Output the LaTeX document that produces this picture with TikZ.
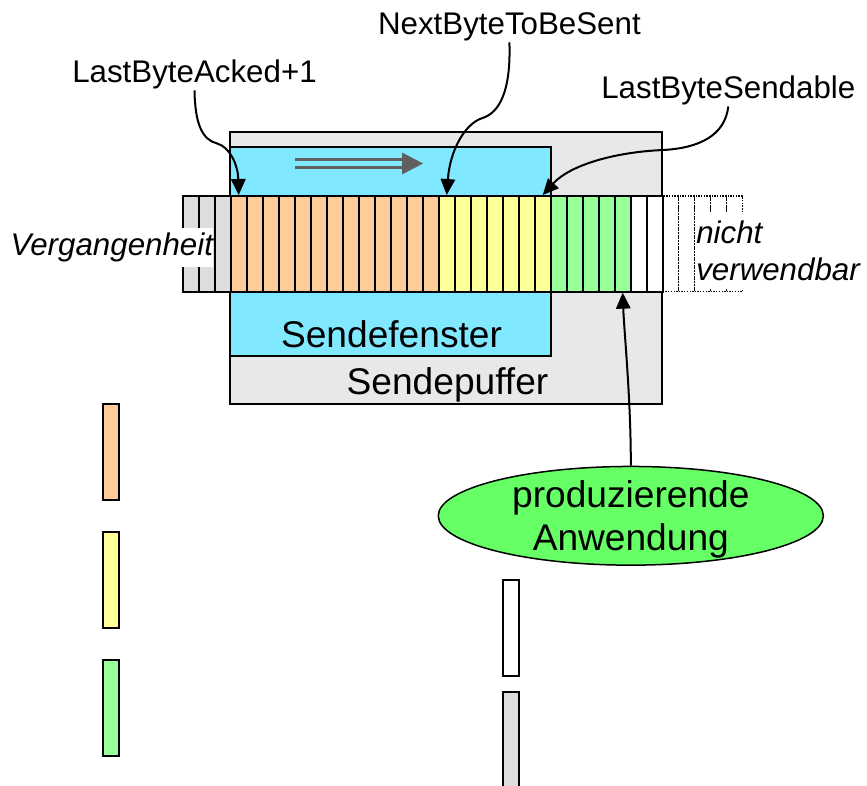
\documentclass[tikz,border=0pt]{standalone}
\usepackage{fontspec}
\setmainfont{Liberation Sans}
\usetikzlibrary{arrows.meta,shapes.geometric}

\definecolor{puffergray}{HTML}{E8E8E8}
\definecolor{fenstercyan}{RGB}{128,232,255}
\definecolor{pastgray}{HTML}{DDDDDD}
\definecolor{sentorange}{HTML}{FFCC99}
\definecolor{readyellow}{HTML}{FFFF99}
\definecolor{writtengreen}{HTML}{99FF99}
\definecolor{appgreen}{HTML}{66FF66}
\definecolor{flowgray}{HTML}{606060}

\newcommand{\labelfont}{\fontsize{22.25pt}{26pt}\selectfont}
\newcommand{\bigfont}{\fontsize{26.4pt}{30.5pt}\selectfont}

\begin{document}
\begin{tikzpicture}[
        x=0.025cm, y=-0.025cm,
        font=\labelfont,
        cell/.style = {rectangle, draw, line width=0.05cm, minimum width=0.4cm, minimum height=2.39cm, inner sep=0pt},
        freecell/.style = {rectangle, draw, densely dotted, line width=0.033cm, minimum width=0.4cm, minimum height=2.39cm, inner sep=0pt},
        box/.style = {rectangle, draw, line width=0.05cm, inner sep=0pt},
        tag/.style = {inner sep=1pt, anchor=base},
        flowline/.style = {draw=flowgray, line width=0.0675cm},
        line/.style = {draw, line width=0.05cm, -{Triangle[length=0.4cm, width=0.36cm]}}
    ]

    \useasboundingbox (0,0) rectangle (867,786);

    % Puffer und Fenster
    \node [box, fill=puffergray, minimum width=10.8075cm, minimum height=6.8075cm] (puffer) at (446.15,267.85) {};
    \node [box, fill=fenstercyan, minimum width=8.0175cm, minimum height=5.2175cm] (fenster) at (390.35,251.65) {};
    \node [tag, font=\bigfont] (fenstertext) at (391.5,348) {Sendefenster};
    \node [tag, font=\bigfont] (puffertext) at (447.5,395) {Sendepuffer};

    \draw [flowline] (295,159.3) -- (404,159.3);
    \draw [flowline] (295,167.7) -- (404,167.7);
    \fill [flowgray] (402,152.5) -- (423,163.5) -- (402,174.5) -- cycle;

    % Bytes
    \foreach \i in {31,...,35} \node [freecell] (c\i) at ({182.7+16*\i-8},243.85) {};
    \foreach \i in {1,...,3} \node [cell, fill=pastgray] (c\i) at ({182.7+16*\i-8},243.85) {};
    \foreach \i in {4,...,16} \node [cell, fill=sentorange] (c\i) at ({182.7+16*\i-8},243.85) {};
    \foreach \i in {17,...,23} \node [cell, fill=readyellow] (c\i) at ({182.7+16*\i-8},243.85) {};
    \foreach \i in {24,...,28} \node [cell, fill=writtengreen] (c\i) at ({182.7+16*\i-8},243.85) {};
    \foreach \i in {29,30} \node [cell, fill=white] (c\i) at ({182.7+16*\i-8},243.85) {};

    \node [fill=white, inner sep=0pt, anchor=east, minimum height=0.96cm, font=\labelfont\itshape] (past) at (213.3,247.5) {Vergangenheit};
    \node [fill=white, inner sep=0pt, anchor=west, minimum height=1.94cm, align=left, font=\fontsize{22.25pt}{26.5pt}\selectfont\itshape] (unused) at (696,250.5) {nicht\\verwendbar};

    % Zeiger
    \node [tag] (acked) at (194.5,82.3) {LastByteAcked+1};
    \node [tag] (next) at (509.4,34.3) {NextByteToBeSent};
    \node [tag] (sendable) at (728.3,98.3) {LastByteSendable};

    \path [line] (acked.south) .. controls (195,125) and (203,140) .. (216.7,143.3) .. controls (230,147) and (238,165) .. (c4.north);
    \path [line] (next.south) .. controls (511,90) and (500,113) .. (481.7,118.3) .. controls (465,124) and (450,150) .. (c17.north);
    \path [line] (sendable.south) .. controls (725,135) and (700,148) .. (663.3,150) .. controls (615,152) and (570,165) .. (c23.north);

    \node [ellipse, draw, line width=0.0375cm, fill=appgreen, minimum width=9.625cm, minimum height=2.375cm, inner sep=0pt, align=center, text depth=0pt, font=\bigfont] (app) at (630.8,515.8) {produzierende\\Anwendung};
    \path [line] (app.north) .. controls (631,400) and (624,330) .. (c28.south);

    % Legende
    \node [cell, fill=sentorange] (legsent) at (111,452) {};
    \node [cell, fill=readyellow] (legready) at (111,580) {};
    \node [cell, fill=writtengreen] (legwritten) at (111,708) {};
    \node [cell, fill=white] (legfree) at (511,628) {};
    \node [cell, fill=pastgray] (legpast) at (511,740.3) {};

\end{tikzpicture}
\end{document}
